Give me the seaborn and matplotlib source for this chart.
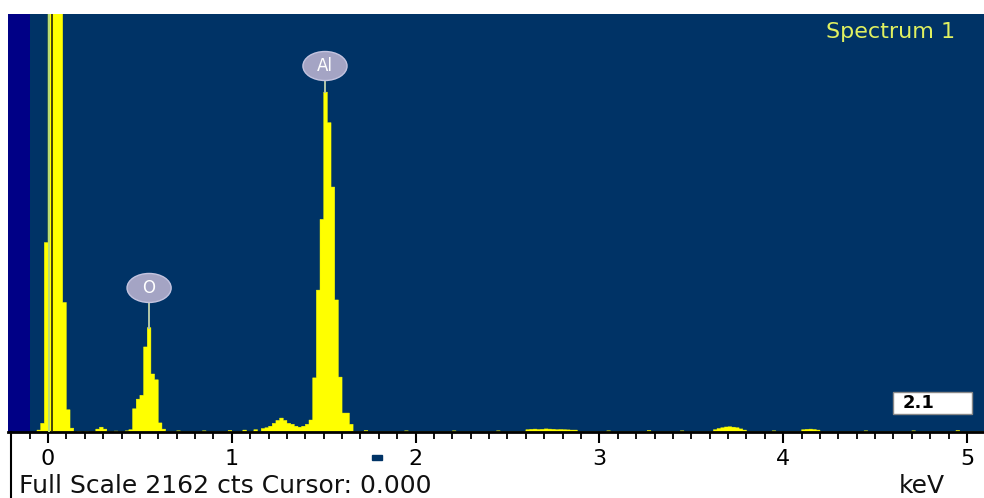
"""EDS spectrum (Spectrum 1) redrawn with seaborn."""

import matplotlib
matplotlib.use("Agg")
import matplotlib.pyplot as plt
from matplotlib.patches import Ellipse, Rectangle
import seaborn as sns

# bin centres (keV, 0.02 keV channels) and counts
energy_kev = [
    -0.05, -0.03, -0.01, 0.01, 0.03, 0.05, 0.07, 0.09, 0.11, 0.13,
    0.17, 0.21, 0.27, 0.29, 0.31, 0.37, 0.43,
    0.45, 0.47, 0.49, 0.51, 0.53, 0.55, 0.57, 0.59, 0.61, 0.63,
    0.71, 0.85, 0.99, 1.07, 1.13, 1.17, 1.19, 1.21, 1.23, 1.25, 1.27, 1.29,
    1.31, 1.33, 1.35, 1.37, 1.39,
    1.41, 1.43, 1.45, 1.47, 1.49, 1.51, 1.53, 1.55, 1.57, 1.59, 1.61, 1.63, 1.65,
    1.73, 1.95, 2.21, 2.45,
    2.61, 2.63, 2.65, 2.67, 2.69, 2.71, 2.73, 2.75, 2.77, 2.79, 2.81, 2.83, 2.85, 2.87,
    3.05, 3.27, 3.45,
    3.63, 3.65, 3.67, 3.69, 3.71, 3.73, 3.75, 3.77, 3.79,
    3.95, 4.11, 4.13, 4.15, 4.17, 4.19, 4.45, 4.71, 4.95,
]
counts = [
    10, 45, 980, 3500, 3500, 3500, 3500, 670, 115, 20,
    4, 4, 15, 25, 15, 5, 6,
    12, 120, 170, 190, 440, 540, 300, 270, 47, 15,
    6, 6, 8, 10, 12, 18, 22, 30, 45, 60, 72, 60,
    45, 40, 30, 25, 30,
    40, 62, 280, 734, 1100, 1758, 1600, 1267, 683, 284, 98, 98, 40,
    8, 6, 6, 6,
    12, 14, 15, 13, 14, 16, 15, 14, 12, 13, 12, 11, 10, 10,
    6, 8, 6,
    12, 18, 22, 26, 27, 25, 22, 16, 10,
    6, 12, 14, 15, 13, 10, 6, 6, 8,
]

full_scale = 2162
tick_major = [0, 1, 2, 3, 4, 5]
tick_minor = [v / 10 for v in range(-1, 51)]

peak_names = ["O", "Al"]
peak_kev = [0.55, 1.507]
peak_top = [540, 1758]
label_cts = [745, 1893]

fig = plt.figure(figsize=(9.84, 4.98), dpi=100)
fig.patch.set_facecolor("white")
ax = fig.add_axes([8 / 984, 66 / 498, 976 / 984, 418 / 498])
ax.set_facecolor("#003366")

sns.histplot(x=energy_kev, weights=counts, binwidth=0.02, binrange=(-0.06, 5.1),
             element="step", fill=True, color="#ffff00", alpha=1,
             edgecolor="#ffff00", linewidth=0.3, ax=ax)

ax.set_xlim(-0.2176, 5.0925)
ax.set_ylim(0, full_scale)

# navy strip on the left edge
ax.axvspan(-0.2176, -0.098, color="#000086", lw=0, zorder=0.5)

# cursor at 0.000
ax.axvline(0.008, color="#b8dc78", lw=1.4, zorder=3)
ax.axvline(0.02, color="#24240c", lw=1.2, zorder=3)

# peak labels
for name, x, top, yc in zip(peak_names, peak_kev, peak_top, label_cts):
    ax.plot([x, x], [top, yc], color="#b4c8a8", lw=1.4, zorder=4)
    ax.add_patch(Ellipse((x, yc), width=0.24, height=150, facecolor="#a4a4c4",
                         edgecolor="#c4c4e0", lw=1, zorder=5))
    ax.text(x, yc, name, color="white", fontsize=12, ha="center", va="center",
            zorder=6)

ax.text(0.970, 0.957, "Spectrum 1", transform=ax.transAxes, color="#e0f060",
        fontsize=16, ha="right", va="center")

ax.add_patch(Rectangle((0.9068, 0.0431), 0.0809, 0.0526, transform=ax.transAxes,
                       facecolor="white", edgecolor="#888888", lw=1, zorder=6))
ax.text(0.917, 0.069, "2.1", transform=ax.transAxes, color="black",
        fontsize=13, fontweight="bold", ha="left", va="center", zorder=7)

for side in ["top", "left", "right"]:
    ax.spines[side].set_visible(False)
ax.spines["bottom"].set_color("black")
ax.spines["bottom"].set_linewidth(2)

ax.set_xticks(tick_major)
ax.set_xticks(tick_minor, minor=True)
ax.set_xticklabels([str(t) for t in tick_major])
ax.tick_params(axis="x", which="major", length=8, width=1.5, color="black",
               labelsize=16, pad=4)
ax.tick_params(axis="x", which="minor", length=5, width=1.3, color="black")
ax.set_yticks([])
ax.set_xlabel("")
ax.set_ylabel("")

fig.text(19 / 984, 12 / 498, "Full Scale 2162 cts Cursor: 0.000", fontsize=18,
         ha="left", va="center", color="#111111")
fig.text(922 / 984, 12 / 498, "keV", fontsize=18, ha="center", va="center",
         color="#111111")

# left border line and small cursor marker under the axis
fig.add_artist(plt.Line2D([11 / 984, 11 / 984], [0, 66 / 498], color="black", lw=1.5))
fig.add_artist(Rectangle((372 / 984, 38 / 498), 10 / 984, 5 / 498,
                         transform=fig.transFigure, color="#003366"))

fig.savefig("out.png", dpi=100)
